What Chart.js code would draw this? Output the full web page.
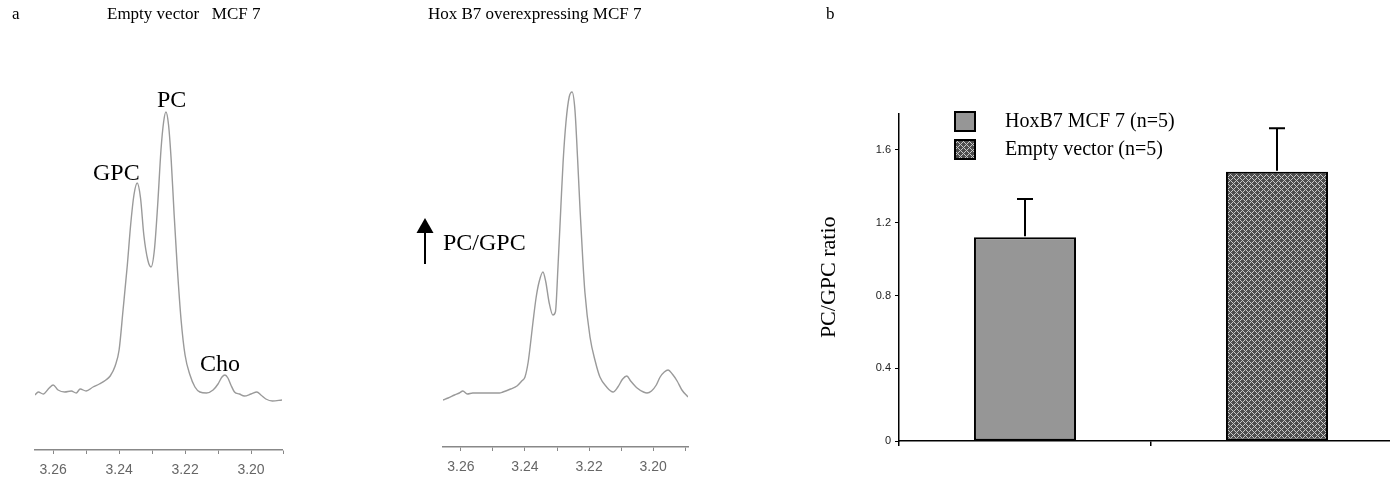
<!DOCTYPE html>
<html><head><meta charset="utf-8">
<script src="https://cdn.jsdelivr.net/npm/chart.js@4.4.1/dist/chart.umd.min.js"></script>
<style>
html,body{margin:0;padding:0;width:1390px;height:478px;overflow:hidden;background:#fff;}
canvas{position:absolute;left:0;top:0;}
.t{position:absolute;font-family:"Liberation Serif","Times New Roman",serif;color:#000;white-space:pre;line-height:1;}
</style></head><body>
<canvas id="c1" width="1390" height="478"></canvas>
<canvas id="c2" width="1390" height="478"></canvas>
<canvas id="c3" width="1420" height="478"></canvas>
<div class="t" style="left:12px;top:5px;font-size:17px;">a</div>
<div class="t" style="left:107px;top:5px;font-size:17px;">Empty vector   MCF 7</div>
<div class="t" style="left:428px;top:5px;font-size:17px;">Hox B7 overexpressing MCF 7</div>
<div class="t" style="left:826px;top:5px;font-size:17px;">b</div>
<div class="t" style="left:157px;top:87px;font-size:24px;">PC</div>
<div class="t" style="left:93px;top:160px;font-size:24px;">GPC</div>
<div class="t" style="left:200px;top:351px;font-size:24px;">Cho</div>
<div class="t" style="left:443px;top:230px;font-size:24px;">PC/GPC</div>
<svg style="position:absolute;left:0;top:0" width="1390" height="478">
  <line x1="425" y1="264" x2="425" y2="230" stroke="#000" stroke-width="2"/>
  <polygon points="416.5,233 433.5,233 425,218" fill="#000"/>
</svg>
<script>
// ---- Spectrum data (chemical shift, ppm ; intensity, arbitrary units) ----
const ppmTicks = [3.26, 3.25, 3.24, 3.23, 3.22, 3.21, 3.20, 3.19];
const emptyPpm = [3.2655,3.2645,3.2630,3.2612,3.2600,3.2585,3.2565,3.2545,3.2530,3.2518,3.2500,3.2479,3.2460,3.2440,3.2427,3.2412,3.2400,3.2388,3.2375,3.2365,3.2355,3.2345,3.2335,3.2325,3.2313,3.2303,3.2293,3.2283,3.2273,3.2265,3.2258,3.2250,3.2242,3.2233,3.2224,3.2212,3.2200,3.2185,3.2170,3.2155,3.2135,3.2115,3.2100,3.2088,3.2079,3.2070,3.2061,3.2050,3.2035,3.2020,3.2000,3.1982,3.1970,3.1955,3.1935,3.1906];
const emptyInt = [55,58,56,62,65,60,58,59,57,61,59,63,66,70,74,84,100,140,185,225,255,267,252,215,190,183,200,245,300,328,338,325,290,235,185,130,95,75,63,58,57,60,66,73,75,72,65,58,56,54,56,58,55,51,49,50];
const hoxPpm = [3.2656,3.2640,3.2620,3.2605,3.2594,3.2580,3.2563,3.2540,3.2509,3.2480,3.2469,3.2445,3.2425,3.2410,3.2400,3.2390,3.2384,3.2375,3.2365,3.2356,3.2344,3.2335,3.2325,3.2313,3.2305,3.2297,3.2288,3.2281,3.2272,3.2262,3.2253,3.2244,3.2236,3.2228,3.2220,3.2213,3.2197,3.2180,3.2166,3.2145,3.2125,3.2110,3.2095,3.2082,3.2070,3.2050,3.2030,3.2019,3.2005,3.1990,3.1978,3.1965,3.1953,3.1940,3.1925,3.1910,3.1891];
const hoxInt = [47,49,52,54,56,53,54,54,54,54,55,58,61,66,70,85,100,125,150,165,175,165,145,132,135,180,240,285,325,350,355,337,290,237,190,155,110,85,70,60,55,60,68,71,66,59,55,54,56,62,70,75,77,73,66,57,50];

// ---- Bar chart data ----
const barCategories = ['HoxB7 MCF 7 (n=5)', 'Empty vector (n=5)'];
const barValues = [1.12, 1.48];
const barErrors = [0.21, 0.24];
const ratioTicks = [0, 0.4, 0.8, 1.2, 1.6];

Chart.defaults.animation = false;
Chart.defaults.devicePixelRatio = 1;

function spectrum(id, xs, ys, pad, xmin, xmax, ymax){
  return new Chart(document.getElementById(id), {
    type: 'line',
    data: { datasets: [{ data: xs.map((x,i)=>({x:x, y:ys[i]})), borderColor:'#9a9a9a', borderWidth:1.4,
      pointRadius:0, cubicInterpolationMode:'monotone', fill:false }] },
    options: {
      responsive:false, animation:false, events:[],
      layout:{ padding: pad },
      plugins:{ legend:{display:false}, tooltip:{enabled:false} },
      scales:{
        x:{ type:'linear', reverse:true, min:xmin, max:xmax,
          afterBuildTicks: s => { s.ticks = ppmTicks.map(v=>({value:v})); },
          afterFit: s => { s.height = 28; },
          ticks:{ autoSkip:false, maxRotation:0, padding:8, color:'#666',
            font:{family:'Liberation Sans', size:14},
            callback: v => (Math.round(v*100) % 2 === 0) ? v.toFixed(2) : '' },
          grid:{ drawOnChartArea:false, tickLength:4, color:'#888', lineWidth:1 },
          border:{ color:'#888', width:1.5 } },
        y:{ display:false, min:0, max:ymax }
      }
    }
  });
}
spectrum('c1', emptyPpm, emptyInt, {left:35, right:1108, top:60, bottom:0}, 3.1906, 3.2655, 390);
spectrum('c2', hoxPpm, hoxInt, {left:443, right:702, top:60, bottom:3}, 3.1891, 3.2656, 387);

// crosshatch pattern
function makePattern(ctx){
  const p = document.createElement('canvas'); p.width = 6; p.height = 6;
  const g = p.getContext('2d');
  g.fillStyle = '#4d4d4d'; g.fillRect(0,0,6,6);
  g.fillStyle = '#c8c8c8';
  for (let x=0;x<6;x++) for (let y=0;y<6;y++) {
    if ((x+y)%6===0 || (x-y+6)%6===0) g.fillRect(x,y,1,1);
  }
  return ctx.createPattern(p,'repeat');
}
const c3 = document.getElementById('c3');
const hatch = makePattern(c3.getContext('2d'));

const errorBars = {
  id:'errorBars',
  afterDatasetsDraw(chart){
    const ctx = chart.ctx, y = chart.scales.y;
    const meta = chart.getDatasetMeta(0);
    ctx.save(); ctx.strokeStyle = '#000'; ctx.lineWidth = 2;
    meta.data.forEach((bar,i)=>{
      const top = y.getPixelForValue(barValues[i] + barErrors[i]);
      ctx.beginPath();
      ctx.moveTo(bar.x, bar.y - 1); ctx.lineTo(bar.x, top);
      ctx.moveTo(bar.x - 8, top); ctx.lineTo(bar.x + 8, top);
      ctx.stroke();
    });
    ctx.restore();
  }
};
const boxLegend = {
  id:'boxLegend',
  afterDraw(chart){
    const ctx = chart.ctx;
    const ds = chart.data.datasets[0];
    ctx.save();
    chart.data.labels.forEach((lab,i)=>{
      const y0 = 112 + i*28;
      ctx.fillStyle = ds.backgroundColor[i];
      ctx.fillRect(955, y0, 20, 19);
      ctx.strokeStyle = '#000'; ctx.lineWidth = 2;
      ctx.strokeRect(955, y0, 20, 19);
      ctx.fillStyle = '#000';
      ctx.font = '20px "Liberation Serif"';
      ctx.textBaseline = 'middle';
      ctx.fillText(lab, 1005, y0 + 10);
    });
    ctx.restore();
  }
};

new Chart(c3, {
  type:'bar',
  data:{ labels: barCategories, datasets:[{ data: barValues, backgroundColor:['#969696', hatch],
    borderColor:'#000', borderWidth:2, borderSkipped:false, barPercentage:0.405, categoryPercentage:1.0 }] },
  options:{
    responsive:false, animation:false, events:[],
    layout:{ padding:{left:812, right:17, top:113.6, bottom:32} },
    plugins:{ legend:{display:false}, tooltip:{enabled:false} },
    scales:{
      x:{ ticks:{display:false}, grid:{drawOnChartArea:false, tickLength:5, color:'#000', lineWidth:1.5, offset:true},
          border:{color:'#000', width:1.5} },
      y:{ min:0, max:1.8,
          afterBuildTicks: s => { s.ticks = ratioTicks.map(v=>({value:v})); },
          afterFit: s => { s.width = 87; },
          ticks:{ padding:4, color:'#222', font:{family:'Liberation Sans', size:11},
            callback: v => v === 0 ? '0' : v.toFixed(1) },
          grid:{ drawOnChartArea:false, tickLength:4, color:'#000', lineWidth:1 },
          border:{ color:'#000', width:1.5 },
          title:{ display:true, text:'PC/GPC ratio', color:'#000', padding:4,
            font:{family:'Liberation Serif', size:22} } }
    }
  },
  plugins:[errorBars, boxLegend]
});
</script>
</body></html>
